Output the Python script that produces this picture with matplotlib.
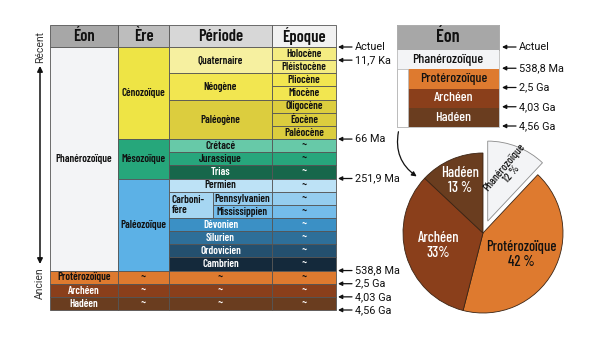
import matplotlib.pyplot as plt
import numpy as np
from matplotlib.patches import Rectangle, FancyArrowPatch

W, H = 600, 338
COND = ["Barlow Condensed", "DejaVu Sans"]
PLAIN = ["Roboto", "DejaVu Sans"]
EDGE = "#555555"

# --- grande échelle : une ligne par époque / subdivision la plus fine ---
headers = ["Éon", "Ère", "Période", "Époque"]
header_colors = ["#a7a7a7", "#bdbdbd", "#d7d7d7", "#f1f1f1"]

eon_names = ["Phanérozoïque", "Protérozoïque", "Archéen", "Hadéen"]
eon_rows = [17, 1, 1, 1]
eon_colors = ["#f3f4f6", "#de7a2f", "#8a3f1b", "#6a3d1f"]
eon_text = ["#111111", "#111111", "#ffffff", "#ffffff"]

era_names = ["Cénozoïque", "Mésozoïque", "Paléozoïque", "~", "~", "~"]
era_rows = [7, 3, 7, 1, 1, 1]
era_colors = ["#eee445", "#26a77b", "#5cb1e6", "#de7a2f", "#8a3f1b", "#6a3d1f"]
era_text = ["#111111", "#111111", "#111111", "#111111", "#ffffff", "#ffffff"]

period_names = ["Quaternaire", "Néogène", "Paléogène", "Crétacé", "Jurassique",
                "Trias", "Permien", "Carboni-\nfère", "Dévonien", "Silurien",
                "Ordovicien", "Cambrien", "~", "~", "~"]
period_rows = [2, 2, 3, 1, 1, 1, 1, 2, 1, 1, 1, 1, 1, 1, 1]
period_colors = ["#f6f0a0", "#f2e650", "#dccd3e", "#67c9a8", "#27a67c",
                 "#17674b", "#bde2f6", "#a6d6f2", "#3b90c5", "#2e6f99",
                 "#24506f", "#14293b", "#de7a2f", "#8a3f1b", "#6a3d1f"]
period_text = ["#111111"] * 5 + ["#ffffff", "#111111", "#111111"] + \
              ["#ffffff"] * 4 + ["#111111", "#ffffff", "#ffffff"]

# sous-périodes du Carbonifère (lignes 11 et 12)
sub_names = ["Pennsylvanien", "Mississippien"]
sub_rows = [11, 12]
sub_colors = ["#95cdef", "#74bcea"]

epoch_names = ["Holocène", "Pléistocène", "Pliocène", "Miocène", "Oligocène",
               "Éocène", "Paléocène"] + ["~"] * 13
epoch_colors = ["#f4ec82", "#f4ec82", "#f2e650", "#f2e650", "#dccd3e",
                "#dccd3e", "#dccd3e", "#67c9a8", "#27a67c", "#17674b",
                "#bde2f6", "#95cdef", "#74bcea", "#3b90c5", "#2e6f99",
                "#24506f", "#14293b", "#de7a2f", "#8a3f1b", "#6a3d1f"]
epoch_text = ["#111111"] * 9 + ["#ffffff"] + ["#111111"] * 3 + \
             ["#ffffff"] * 4 + ["#111111", "#ffffff", "#ffffff"]

# bornes (index de ligne) et âges
bound_rows = [0, 1, 7, 10, 17, 18, 19, 20]
bound_labels = ["Actuel", "11,7 Ka", "66 Ma", "251,9 Ma", "538,8 Ma",
                "2,5 Ga", "4,03 Ga", "4,56 Ga"]

# --- petite échelle des éons ---
small_bounds = ["Actuel", "538,8 Ma", "2,5 Ga", "4,03 Ga", "4,56 Ga"]

# --- camembert : durée relative des éons ---
pie_labels = ["Phanérozoïque", "Protérozoïque", "Archéen", "Hadéen"]
pie_values = [12, 42, 33, 13]
pie_colors = ["#f3f4f6", "#de7a2f", "#8a3f1b", "#6a3d1f"]

fig = plt.figure(figsize=(W / 100, H / 100), dpi=100)
ax = fig.add_axes([0, 0, 1, 1])
ax.set_xlim(0, W)
ax.set_ylim(H, 0)
ax.axis("off")

cols = [50, 118, 169, 272, 336]
split = 213
y0, rh = 47, 13.15


def cell(x0, x1, ya, yb, color, text, tcolor, size=7.8, ha="center"):
    ax.add_patch(Rectangle((x0, ya), x1 - x0, yb - ya, facecolor=color,
                           edgecolor=EDGE, lw=0.6))
    tx = (x0 + x1) / 2 if ha == "center" else x0 + 3
    ax.text(tx, (ya + yb) / 2 + 0.3, text, ha=ha, va="center", color=tcolor,
            fontsize=size, family=COND, fontweight="semibold", linespacing=1.05)


def ry(i):
    return y0 + i * rh


# en-têtes
for i, name in enumerate(headers):
    cell(cols[i], cols[i + 1], 25, y0, header_colors[i], name, "#111111", size=12)


def column(ci, names, rows, colors, tcolors):
    r = 0
    for name, n, c, t in zip(names, rows, colors, tcolors):
        cell(cols[ci], cols[ci + 1], ry(r), ry(r + n), c, name, t)
        r += n


column(0, eon_names, eon_rows, eon_colors, eon_text)
column(1, era_names, era_rows, era_colors, era_text)

r = 0
for name, n, c, t in zip(period_names, period_rows, period_colors, period_text):
    if name.startswith("Carboni"):
        cell(cols[2], split, ry(r), ry(r + n), c, name, t, ha="left")
    else:
        cell(cols[2], cols[3], ry(r), ry(r + n), c, name, t)
    r += n
for name, row, c in zip(sub_names, sub_rows, sub_colors):
    cell(split, cols[3], ry(row), ry(row + 1), c, name, "#111111")

for i, (name, c, t) in enumerate(zip(epoch_names, epoch_colors, epoch_text)):
    cell(cols[3], cols[4], ry(i), ry(i + 1), c, name, t)


def age_arrow(x, y, label):
    ax.annotate("", xy=(x, y), xytext=(x + 14, y),
                arrowprops=dict(arrowstyle="-|>", color="#111111", lw=0.9,
                                mutation_scale=6, shrinkA=0, shrinkB=0))
    ax.text(x + 17, y, label, ha="left", va="center", fontsize=7.8,
            family=PLAIN, color="#111111")


for row, label in zip(bound_rows, bound_labels):
    age_arrow(cols[4] + 2, ry(row), label)

# flèche du temps
ax.annotate("", xy=(40, 66), xytext=(40, 264),
            arrowprops=dict(arrowstyle="<|-|>", color="#111111", lw=1.1,
                            mutation_scale=8, shrinkA=0, shrinkB=0))
ax.text(40, 47, "Récent", rotation=90, ha="center", va="center", fontsize=7.5,
        family=PLAIN, color="#333333")
ax.text(40, 283, "Ancien", rotation=90, ha="center", va="center", fontsize=7.5,
        family=PLAIN, color="#333333")

# petite échelle
sx0, sx1, sxs = 397, 499, 408
ax.add_patch(Rectangle((sx0, 25), sx1 - sx0, 25, facecolor="#a7a7a7",
                       edgecolor=EDGE, lw=0.6))
ax.text((sx0 + sx1) / 2, 38, "Éon", ha="center", va="center", fontsize=13,
        family=COND, fontweight="semibold", color="#111111")
srh = (127 - 50) / 4
for i, (name, c, t) in enumerate(zip(eon_names, eon_colors, eon_text)):
    ya, yb = 50 + i * srh, 50 + (i + 1) * srh
    left = sx0 if i == 0 else sxs
    ax.add_patch(Rectangle((left, ya), sx1 - left, srh, facecolor=c,
                           edgecolor="none"))
    ax.text((left + sx1) / 2, (ya + yb) / 2 + 0.3, name, ha="center",
            va="center", fontsize=10, family=COND, fontweight="medium", color=t)
ax.add_patch(Rectangle((sx0, 50 + srh), sxs - sx0, 3 * srh, facecolor="white",
                       edgecolor="#bbbbbb", lw=0.6))
ax.add_patch(Rectangle((sx0, 25), sx1 - sx0, 102, facecolor="none",
                       edgecolor="#bbbbbb", lw=0.6))
for i, label in enumerate(small_bounds):
    y = 47 if i == 0 else 50 + i * srh - 1
    age_arrow(sx1 + 3, y, label)

# flèche vers le camembert
ax.add_patch(FancyArrowPatch((399, 129), (419, 178),
                             connectionstyle="arc3,rad=0.35",
                             arrowstyle="-|>", mutation_scale=7,
                             color="#111111", lw=0.9))

# camembert
R = 81
pax = fig.add_axes([(483 - 100) / W, (H - 233 - 100) / H, 200 / W, 200 / H])
pax.set_xlim(-100 / R, 100 / R)
pax.set_ylim(-100 / R, 100 / R)
pax.axis("off")
explode = [0.16, 0, 0, 0]
wedges, _ = pax.pie(pie_values, colors=pie_colors, startangle=90,
                    counterclock=False, explode=explode, radius=1,
                    wedgeprops=dict(edgecolor="#3b2414", lw=0.6))
wedges[0].set_edgecolor("#8a8a8a")

pie_text = ["#111111", "#111111", "#ffffff", "#ffffff"]
pie_r = [0.84, 0.55, 0.58, 0.72]
for w, lab, val, tc, rr in zip(wedges, pie_labels, pie_values, pie_text, pie_r):
    mid = np.deg2rad((w.theta1 + w.theta2) / 2)
    x, y = rr * np.cos(mid), rr * np.sin(mid)
    if lab == "Phanérozoïque":
        pax.text(x, y, f"{lab}\n{val} %", ha="center", va="center",
                 rotation=50, fontsize=8.2, family=COND, fontweight="medium",
                 color=tc, linespacing=1.0, rotation_mode="anchor")
    else:
        sep = "" if lab == "Archéen" else " "
        pax.text(x, y, f"{lab}\n{val}{sep}%", ha="center", va="center",
                 fontsize=10.5, family=COND, fontweight="medium", color=tc,
                 linespacing=1.1)

fig.savefig("out.png", dpi=100)
